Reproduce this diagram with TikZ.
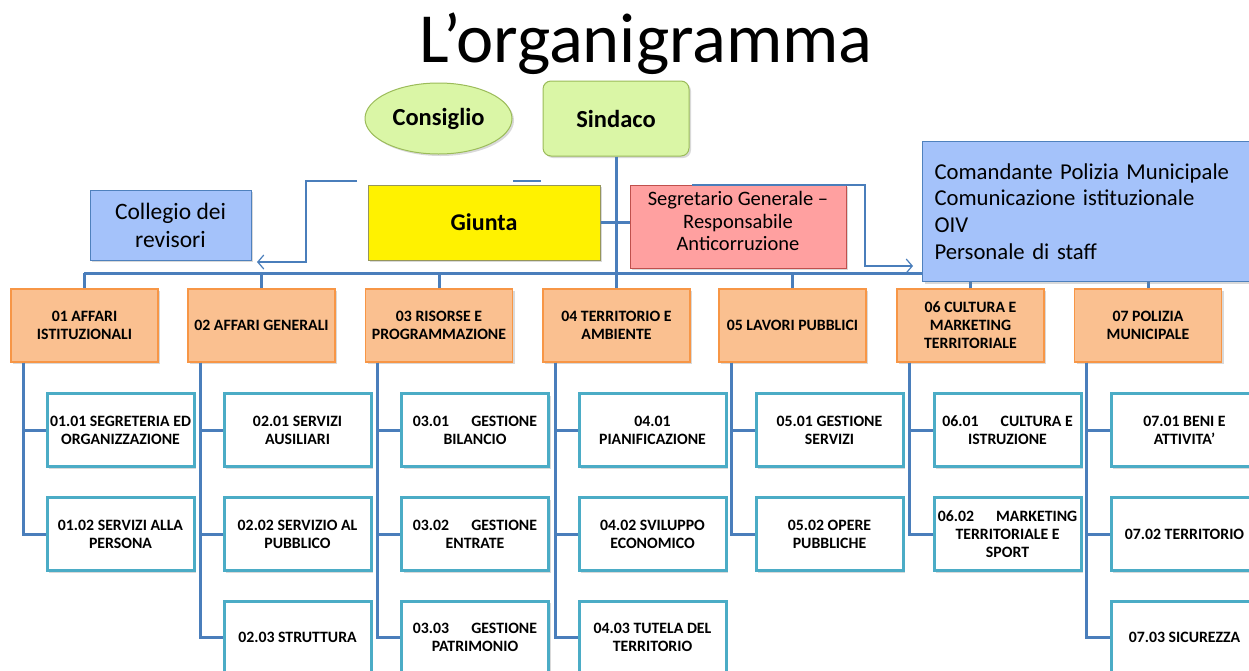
\documentclass[tikz,border=0pt]{standalone}
\usepackage{fontspec}
\setmainfont{Carlito}
\usetikzlibrary{shadows,arrows.meta,shapes.geometric}
\definecolor{busc}{RGB}{74,126,187}
\definecolor{grfill}{RGB}{218,246,166}
\definecolor{grdraw}{RGB}{155,187,89}
\definecolor{gidraw}{RGB}{150,150,90}
\definecolor{pkfill}{RGB}{255,160,160}
\definecolor{pkdraw}{RGB}{192,80,77}
\definecolor{blfill}{RGB}{164,194,250}
\definecolor{bldraw}{RGB}{79,129,189}
\definecolor{orfill}{RGB}{250,192,144}
\definecolor{ordraw}{RGB}{247,150,70}
\definecolor{sbdraw}{RGB}{75,172,198}
\tikzset{
  shad/.style={drop shadow={opacity=0.3,shadow xshift=2pt,shadow yshift=-2pt}},
  bus/.style={draw=busc,line width=3pt},
  thinc/.style={draw=busc,line width=1.2pt},
  arr/.style={-{Straight Barb[length=6pt,width=14pt,line width=1.2pt]}},
  topbox/.style={draw=grdraw,fill=grfill,line width=1pt,shad,font=\fontsize{24.5}{28}\selectfont\bfseries},
  lvone/.style={draw=ordraw,fill=orfill,line width=1.2pt,shad,minimum width=147pt,minimum height=73pt,inner sep=2pt,align=center,font=\fontsize{15.8}{18}\selectfont\bfseries},
  lvtwo/.style={draw=sbdraw,fill=white,line width=3pt,shad,minimum width=147pt,minimum height=73pt,inner sep=2pt,align=center,font=\fontsize{15.8}{18}\selectfont\bfseries},
}
\begin{document}
\begin{tikzpicture}[x=1pt,y=-1pt]
\useasboundingbox (0,0) rectangle (1249,670);
\clip (0,0) rectangle (1249,670);
% title
\node (title) at (646,44) {\fontsize{70.5}{80}\selectfont L’organigramma};
% top nodes
\node[topbox,ellipse,minimum width=147pt,minimum height=71pt,inner sep=0pt] (cons) at (438.5,118.5) {Consiglio};
\node[topbox,rounded corners=8pt,minimum width=146pt,minimum height=75pt] (sind) at (616,118.5) {Sindaco};
% bus coordinates
\coordinate (busL) at (84,273);
\coordinate (busR) at (1148,273);
% level one nodes
\node[lvone] (o1) at (84.5,325.5) {01 AFFARI\\ISTITUZIONALI};
\node[lvone] (o2) at (261.5,325.5) {02 AFFARI GENERALI};
\node[lvone] (o3) at (439,325.5) {03 RISORSE E\\PROGRAMMAZIONE};
\node[lvone] (o4) at (616.5,325.5) {04 TERRITORIO E\\AMBIENTE};
\node[lvone] (o5) at (792.5,325.5) {05 LAVORI PUBBLICI};
\node[lvone] (o6) at (970.5,325.5) {06 CULTURA E\\MARKETING\\TERRITORIALE};
\node[lvone] (o7) at (1148,325.5) {07 POLIZIA\\MUNICIPALE};
% bus
\draw[bus] (busL) -- (busR);
\draw[bus] (sind.south) -- (sind.south |- busL);
\foreach \n in {o1,o2,o3,o4,o5,o6,o7} {\draw[bus] (\n.north) -- (\n.north |- busL);}
% Giunta and Segretario
\node[draw=gidraw,fill=yellow,line width=1pt,shad,minimum width=232pt,minimum height=75pt,font=\fontsize{24}{28}\selectfont\bfseries] (giunta) at (484,222.5) {Giunta};
\node[draw=pkdraw,fill=pkfill,line width=1pt,shad,minimum width=216pt,minimum height=83pt,align=center,font=\fontsize{20.5}{22.5}\selectfont] (segr) at (738,226.5) {Segretario Generale –\\Responsabile\\Anticorruzione\\[-19pt]\strut};
\draw[bus] (giunta.east) -- (giunta.east -| segr.west);
% Collegio
\node[draw=bldraw,fill=blfill,line width=1pt,shad,minimum width=161pt,minimum height=70pt,align=center,font=\fontsize{23.5}{28}\selectfont] (coll) at (170.5,225) {Collegio dei\\revisori};
% thin connectors
\coordinate (la) at (357,181);
\coordinate (lb) at (306,181);
\coordinate (lc) at (306,262);
\coordinate (ld) at (257,262);
\draw[thinc,arr] (la) -- (lb) -- (lc) -- (ld);
\coordinate (fa) at (513,181);
\coordinate (fb) at (541,181);
\draw[thinc] (fa) -- (fb);
\coordinate (ra) at (692,185);
\coordinate (rb) at (865,185);
\coordinate (rc) at (865,266);
\coordinate (rd) at (913,266);
\draw[thinc,arr] (ra) -- (rb) -- (rc) -- (rd);
% staff box
\node[draw=bldraw,fill=blfill,line width=1pt,shad,anchor=north west,minimum height=140pt,text width=310pt,inner xsep=12pt,align=left,font=\fontsize{22.7}{26.7}\selectfont] (staff) at (922,141) {Comandante Polizia Municipale\\Comunicazione istituzionale\\OIV\\Personale di staff};
% level two nodes
\node[lvtwo] (s11) at (120.5,430) {01.01 SEGRETERIA ED\\ORGANIZZAZIONE};
\node[lvtwo] (s12) at (120.5,534) {01.02 SERVIZI ALLA\\PERSONA};
\node[lvtwo] (s21) at (297.5,430) {02.01 SERVIZI\\AUSILIARI};
\node[lvtwo] (s22) at (297.5,534) {02.02 SERVIZIO AL\\PUBBLICO};
\node[lvtwo] (s23) at (297.5,637.5) {02.03 STRUTTURA};
\node[lvtwo] (s31) at (475,430) {03.01\hspace{1.4em}GESTIONE\\BILANCIO};
\node[lvtwo] (s32) at (475,534) {03.02\hspace{1.4em}GESTIONE\\ENTRATE};
\node[lvtwo] (s33) at (475,637.5) {03.03\hspace{1.4em}GESTIONE\\PATRIMONIO};
\node[lvtwo] (s41) at (652.5,430) {04.01\\PIANIFICAZIONE};
\node[lvtwo] (s42) at (652.5,534) {04.02 SVILUPPO\\ECONOMICO};
\node[lvtwo] (s43) at (652.5,637.5) {04.03 TUTELA DEL\\TERRITORIO};
\node[lvtwo] (s51) at (829.5,430) {05.01 GESTIONE\\SERVIZI};
\node[lvtwo] (s52) at (829.5,534) {05.02 OPERE\\PUBBLICHE};
\node[lvtwo] (s61) at (1007.5,430) {06.01\hspace{1.4em}CULTURA E\\ISTRUZIONE};
\node[lvtwo] (s62) at (1007.5,534) {06.02\hspace{1.4em}MARKETING\\TERRITORIALE E\\SPORT};
\node[lvtwo] (s71) at (1184.5,430) {07.01 BENI E\\ATTIVITA'};
\node[lvtwo] (s72) at (1184.5,534) {07.02 TERRITORIO};
\node[lvtwo] (s73) at (1184.5,637.5) {07.03 SICUREZZA};
% spines
\draw[bus] ([xshift=13pt]o1.south west) |- (s12.west);
\draw[bus] ([xshift=13pt]o1.south west) |- (s11.west);
\draw[bus] ([xshift=13pt]o2.south west) |- (s23.west);
\draw[bus] ([xshift=13pt]o2.south west) |- (s22.west);
\draw[bus] ([xshift=13pt]o2.south west) |- (s21.west);
\draw[bus] ([xshift=13pt]o3.south west) |- (s33.west);
\draw[bus] ([xshift=13pt]o3.south west) |- (s32.west);
\draw[bus] ([xshift=13pt]o3.south west) |- (s31.west);
\draw[bus] ([xshift=13pt]o4.south west) |- (s43.west);
\draw[bus] ([xshift=13pt]o4.south west) |- (s42.west);
\draw[bus] ([xshift=13pt]o4.south west) |- (s41.west);
\draw[bus] ([xshift=13pt]o5.south west) |- (s52.west);
\draw[bus] ([xshift=13pt]o5.south west) |- (s51.west);
\draw[bus] ([xshift=13pt]o6.south west) |- (s62.west);
\draw[bus] ([xshift=13pt]o6.south west) |- (s61.west);
\draw[bus] ([xshift=13pt]o7.south west) |- (s73.west);
\draw[bus] ([xshift=13pt]o7.south west) |- (s72.west);
\draw[bus] ([xshift=13pt]o7.south west) |- (s71.west);
\end{tikzpicture}
\end{document}
